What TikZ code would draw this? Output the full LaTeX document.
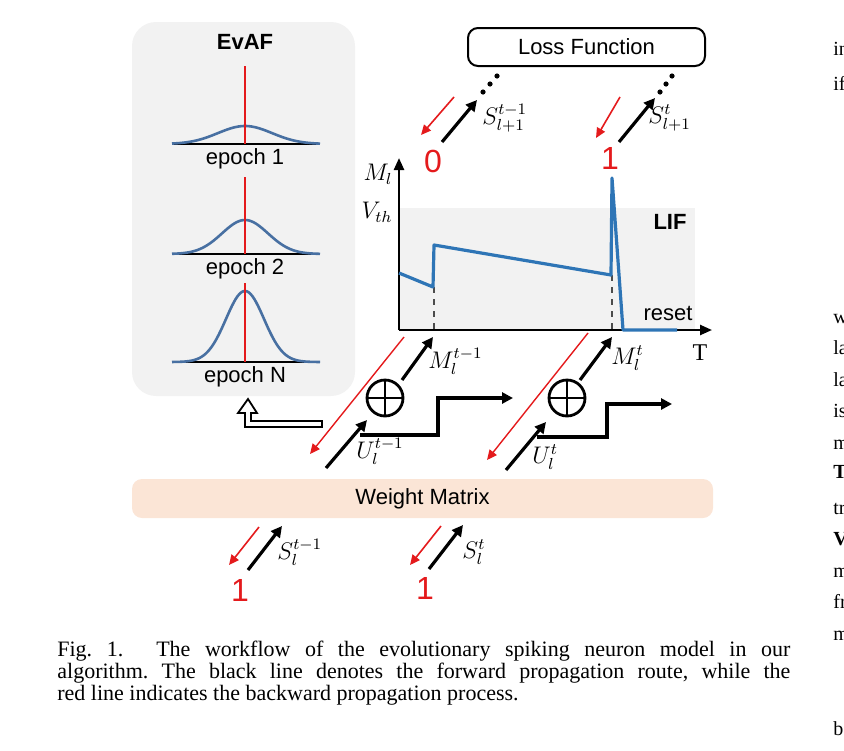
\documentclass[tikz,border=0pt]{standalone}
\usepackage{fontspec}
\setmainfont{Liberation Serif}
\setsansfont{Liberation Sans}
\usetikzlibrary{arrows.meta}
\definecolor{spikered}{RGB}{228,26,28}
\definecolor{curveblue}{RGB}{72,112,162}
\definecolor{lifblue}{RGB}{46,117,182}
\definecolor{panelgray}{RGB}{242,242,242}
\definecolor{peach}{RGB}{251,229,214}
\begin{document}
\begin{tikzpicture}[x=0.5pt,y=-0.5pt,
    every node/.style={font=\sffamily\fontsize{11}{13}\selectfont},
    fwd/.style={line width=1.6pt,-{Triangle[length=5.5pt,width=5.5pt]}},
    bwd/.style={spikered,line width=0.8pt,-{Triangle[length=5pt,width=4.5pt]}},
    axis/.style={line width=1.2pt,-{Triangle[length=6pt,width=5pt]}},
    spike/.style={text=spikered,font=\sffamily\fontsize{16}{18}\selectfont,inner sep=0pt},
    lbl/.style={anchor=west,font=\fontsize{12}{14}\selectfont,inner sep=0pt},
    gauss/.style={curveblue,line width=1.3pt},
    adder/.style={draw,circle,line width=1.4pt,minimum size=18pt,inner sep=0pt},
    frag/.style={anchor=base west,font=\rmfamily\fontsize{10}{12}\selectfont,inner sep=0pt}]
  \useasboundingbox (0,0) rectangle (844,750);

  \node[fill=panelgray,rounded corners=12pt,minimum width=111.5pt,minimum height=187pt] (evaf) at (243.5,209) {};
  \node[font=\sffamily\bfseries\fontsize{11}{13}\selectfont] (evaftitle) at (245,42) {EvAF};
  \foreach \b/\t/\a/\s/\e/\n in {144/66/18/27/1/ep1,254/177/34/23/2/ep2,362/283/71/19/N/epN}{
    \draw[line width=1pt] (172,\b) -- (320,\b);
    \draw[gauss] plot[domain=172:320,samples=80,smooth] (\x,{\b-\a*exp(-((\x-245)/\s)^2/2)});
    \draw[spikered,line width=1pt] (245,\t) -- (245,\b);
    \node (\n) at (245,\b+15) {epoch \e};
  }

  \node[draw,line width=1pt,rounded corners=5pt,minimum width=118.5pt,minimum height=19pt] (loss) at (586.5,47) {Loss Function};

  \coordinate (rA1) at (454,97);  \coordinate (rA2) at (421,135);
  \coordinate (fA1) at (442,142); \coordinate (fA2) at (477,100);
  \coordinate (rB1) at (620,97);  \coordinate (rB2) at (596,138);
  \coordinate (fB1) at (619,142); \coordinate (fB2) at (655,98);
  \draw[bwd] (rA1) -- (rA2);
  \draw[fwd] (fA1) -- (fA2);
  \draw[bwd] (rB1) -- (rB2);
  \draw[fwd] (fB1) -- (fB2);
  \foreach \p in {(483,92),(490,84),(497,76),(660,92),(666,84),(672,76)}
    \fill \p circle[radius=1.3pt];
  \node[lbl] (snA) at (482,118) {$S_{l+1}^{t-1}$};
  \node[lbl] (snB) at (648,118) {$S_{l+1}^{t}$};
  \node[spike] (spk0) at (433,161) {0};
  \node[spike] (spk1) at (610,158) {1};

  \fill[panelgray] (399,208) rectangle (695,330);
  \coordinate (O) at (399,330);
  \coordinate (ytop) at (399,158);
  \coordinate (xend) at (712,330);
  \draw[axis] (O) -- (ytop);
  \draw[axis] (O) -- (xend);
  \draw[dashed,gray!60!black,line width=0.6pt] (434,287) -- (434,330) (612,275) -- (612,330);
  \draw[lifblue,line width=1.6pt,line join=round] (399,273) -- (433,287) -- (434,245) -- (611,275) -- (612,178) -- (623,330) -- (677,330);
  \node[lbl,anchor=center] (ml) at (378,174) {$M_l$};
  \node[lbl,anchor=center] (vth) at (377,212) {$V_{th}$};
  \node[font=\sffamily\bfseries\fontsize{11}{13}\selectfont] (lif) at (670,222) {LIF};
  \node (reset) at (668,313) {reset};
  \node[font=\rmfamily\fontsize{12}{14}\selectfont] (tlab) at (700,353) {T};

  \node[adder] (add1) at (385,398) {};
  \node[adder] (add2) at (567,398) {};
  \draw[line width=1.4pt] (add1.north) -- (add1.south) (add1.west) -- (add1.east);
  \draw[line width=1.4pt] (add2.north) -- (add2.south) (add2.west) -- (add2.east);
  \coordinate (rC1) at (404,337); \coordinate (rC2) at (310,454);
  \coordinate (rD1) at (588,333); \coordinate (rD2) at (487,460);
  \draw[bwd,line width=0.7pt] (rC1) -- (rC2);
  \draw[bwd,line width=0.7pt] (rD1) -- (rD2);
  \coordinate (mA1) at (402,380); \coordinate (mA2) at (433,337);
  \coordinate (mB1) at (580,380); \coordinate (mB2) at (612,337);
  \coordinate (uA1) at (326,468); \coordinate (uA2) at (367,420);
  \coordinate (uB1) at (506,470); \coordinate (uB2) at (546,422);
  \draw[fwd] (mA1) -- (mA2);
  \draw[fwd] (mB1) -- (mB2);
  \draw[fwd] (uA1) -- (uA2);
  \draw[fwd] (uB1) -- (uB2);
  \node[lbl] (mlA) at (428,361) {$M_l^{t-1}$};
  \node[lbl] (mlB) at (611,358) {$M_l^{t}$};
  \node[lbl] (ulA) at (356,451) {$U_l^{t-1}$};
  \node[lbl] (ulB) at (532,457) {$U_l^{t}$};
  \coordinate (stA) at (360,435); \coordinate (stA2) at (513,398);
  \coordinate (stB) at (537,437); \coordinate (stB2) at (672,404);
  \draw[fwd] (stA) -- (438,435) -- (438,398) -- (stA2);
  \draw[fwd] (stB) -- (607,437) -- (607,404) -- (stB2);
  \draw[line width=0.9pt,fill=white,line join=miter] (322,421) -- (251,421) -- (251,413) -- (257,413) -- (248,399) -- (238,413) -- (245,413) -- (245,427) -- (322,427) -- cycle;

  \node[fill=peach,rounded corners=5pt,minimum width=290.5pt,minimum height=19.5pt] (wm) at (422.5,498.5) {Weight Matrix};

  \coordinate (rE1) at (259,527); \coordinate (rE2) at (229,565);
  \coordinate (fE1) at (248,570); \coordinate (fE2) at (282,526);
  \coordinate (rF1) at (441,526); \coordinate (rF2) at (410,565);
  \coordinate (fF1) at (429,569); \coordinate (fF2) at (463,525);
  \draw[bwd] (rE1) -- (rE2);
  \draw[fwd] (fE1) -- (fE2);
  \draw[bwd] (rF1) -- (rF2);
  \draw[fwd] (fF1) -- (fF2);
  \node[lbl] (slA) at (277,552) {$S_l^{t-1}$};
  \node[lbl] (slB) at (462,552) {$S_l^{t}$};
  \node[spike] (spk2) at (240,590) {1};
  \node[spike] (spk3) at (425,588) {1};

  \node[anchor=north west,inner sep=0pt,text width=366.5pt,align=justify,font=\rmfamily\fontsize{11}{11}\selectfont\frenchspacing] (caption) at (57,641)
    {Fig.~1.\hspace{1.5em}The workflow of the evolutionary spiking neuron model in our\linebreak
     algorithm. The black line denotes the forward propagation route, while the\linebreak
     red line indicates the backward propagation process.};

  \begin{scope}
    \clip (0,0) rectangle (844,750);
    \foreach \y/\w in {55/in,90/if,323/w,354/la,386/la,417/is,449/m,478/\textbf{T},514/tr,545/\textbf{V},577/m,608/fr,640/m,735/b}
      \node[frag] (frag\y) at (833,\y) {\w};
  \end{scope}
\end{tikzpicture}
\end{document}
